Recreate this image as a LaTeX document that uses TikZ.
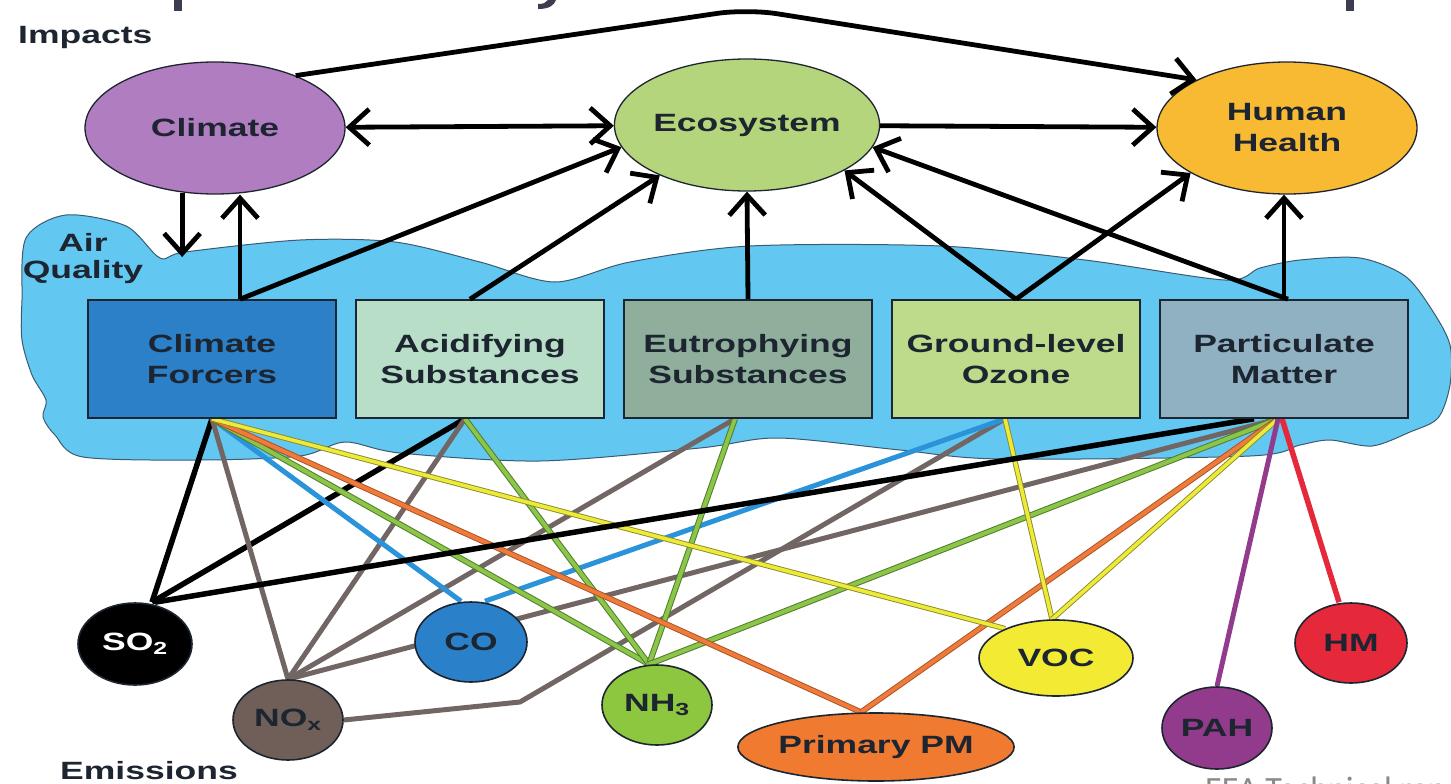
\documentclass[tikz,border=0pt]{standalone}
\usepackage{fontspec}
\usepackage{tikz}
\usetikzlibrary{shapes.geometric}
\usetikzlibrary{arrows.meta}
\newfontfamily\dfont[FakeStretch=1.42]{Liberation Sans}
\newfontfamily\slidefont{Carlito}
\definecolor{ink}{HTML}{1D2530}
\definecolor{cloudcol}{HTML}{62C8F2}
\definecolor{cloudline}{HTML}{3B5B70}
\definecolor{climcol}{HTML}{B07DC1}
\definecolor{ecocol}{HTML}{B4D57B}
\definecolor{hhcol}{HTML}{F8B933}
\definecolor{cfcol}{HTML}{2C80C8}
\definecolor{ascol}{HTML}{B8DEC8}
\definecolor{escol}{HTML}{8FAE9C}
\definecolor{gocol}{HTML}{BEDA8B}
\definecolor{pmcol}{HTML}{90B1C2}
\definecolor{noxcol}{HTML}{6F5F58}
\definecolor{cocol}{HTML}{2B80CA}
\definecolor{nhcol}{HTML}{8DC63F}
\definecolor{ppmcol}{HTML}{F07B30}
\definecolor{voccol}{HTML}{F2EA33}
\definecolor{pahcol}{HTML}{923B8C}
\definecolor{hmcol}{HTML}{E5283A}
\definecolor{lgray}{HTML}{716664}
\definecolor{lblue}{HTML}{2B93D9}
\definecolor{lgreen}{HTML}{8DC44A}
\definecolor{lgreenedge}{HTML}{4F7F2A}
\definecolor{lyellow}{HTML}{EDEA3A}
\definecolor{lyellowedge}{HTML}{8A8A2A}
\definecolor{lorange}{HTML}{EE7A3C}
\definecolor{lorangeedge}{HTML}{A85020}
\definecolor{titlecol}{HTML}{3D3D52}
\definecolor{eeagray}{HTML}{8A8A8A}
\pgfdeclarelayer{back}
\pgfdeclarelayer{mid}
\pgfsetlayers{back,mid,main}
\tikzset{%
    impact/.style={ellipse,draw=ink,line width=1.3pt,inner sep=0pt,minimum width=260pt,
        minimum height=132pt,align=center,text=ink,font=\dfont\bfseries\fontsize{25}{31}\selectfont},
    sbox/.style={rectangle,draw=ink,line width=1.6pt,inner sep=0pt,minimum width=248pt,
        minimum height=118pt,align=center,text=ink,font=\dfont\bfseries\fontsize{25}{31}\selectfont},
    emis/.style={ellipse,draw=ink,line width=1.6pt,inner sep=0pt,minimum width=112pt,
        minimum height=80pt,text=ink,font=\dfont\bfseries\fontsize{25}{31}\selectfont},
    lbl/.style={inner sep=0pt,align=center,text=ink,font=\dfont\bfseries\fontsize{25}{27}\selectfont}
}

\begin{document}
\begin{tikzpicture}[
                x=1pt,y=-1pt,
                arr/.style={line width=4.8pt,-{Straight Barb[length=20pt,width=36pt]}},
                arrb/.style={line width=4.8pt,{Straight Barb[length=20pt,width=36pt]}-{Straight Barb[length=20pt,width=36pt]}},
                blk/.style={line width=5.5pt,black},
                gry/.style={line width=5pt,lgray},
                blu/.style={line width=5pt,lblue},
                grn/.style={draw=lgreenedge,line width=1pt,double=lgreen,double distance=4pt},
                ylw/.style={draw=lyellowedge,line width=0.9pt,double=lyellow,double distance=3.6pt},
                org/.style={draw=lorangeedge,line width=0.9pt,double=lorange,double distance=4pt}
            ]
            \useasboundingbox (0,0) rectangle (1451,784);

            \begin{pgfonlayer}{back}
            \fill[white] (0,0) rectangle (1451,784);
            \filldraw[fill=cloudcol,draw=cloudline,line width=1pt] plot[smooth cycle,tension=0.5] coordinates {
                (22,300) (26,238) (66,215) (126,226) (160,258) (185,252) (300,240) (395,242)
                (480,262) (555,282) (630,262) (750,246) (940,246) (1085,260) (1225,280)
                (1260,268) (1300,260) (1360,258) (1405,276) (1432,310) (1450,345) (1450,385)
                (1438,418) (1410,432) (1372,446) (1330,440) (1300,445) (1250,456) (1000,459)
                (900,450) (778,438) (700,448) (540,461) (400,453) (345,442) (300,456)
                (200,460) (83,457) (55,435) (43,417) (46,400) (32,375) (22,340)};
            \end{pgfonlayer}

            \fill[titlecol] (174,0) rectangle (182,11);
            \fill[titlecol] (1346,0) rectangle (1354,11);
            \fill[titlecol] (538,9) .. controls (550,9) and (554,5) .. (556,0) -- (548,0) .. controls (546,3) and (543,4) .. (538,4) -- cycle;

            \node[lbl,anchor=base west] (imp) at (18,44) {Impacts};
            \node[lbl,anchor=base west] (emi) at (60,779) {Emissions};
            \node[lbl] (aq) at (83,259) {Air\\Quality};

            \node[impact,fill=climcol] (clim) at (215,128) {Climate};
            \node[impact,fill=ecocol] (eco) at (747,125) {Ecosystem};
            \node[impact,fill=hhcol] (hh) at (1287,128) {Human\\Health};

            \node[sbox,fill=cfcol] (cf) at (212,359) {Climate\\Forcers};
            \node[sbox,fill=ascol] (as) at (480,359) {Acidifying\\Substances};
            \node[sbox,fill=escol] (es) at (748,359) {Eutrophying\\Substances};
            \node[sbox,fill=gocol] (go) at (1016,359) {Ground-level\\Ozone};
            \node[sbox,fill=pmcol] (pm) at (1284,359) {Particulate\\Matter};

            \node[emis,fill=black,text=white,minimum width=114pt,minimum height=82pt] (so2) at (135,644) {SO\textsubscript{2}};
            \node[emis,fill=noxcol,minimum width=110pt] (nox) at (288,720) {NO\textsubscript{x}};
            \node[emis,fill=cocol] (co) at (471,642) {CO};
            \node[emis,fill=nhcol,minimum width=110pt] (nh3) at (657,705) {NH\textsubscript{3}};
            \node[emis,fill=ppmcol,minimum width=218pt,minimum height=68pt] (ppm) at (876,747) {Primary PM};
            \node[emis,fill=voccol,minimum width=154pt,minimum height=76pt] (voc) at (1056,658) {VOC};
            \node[emis,fill=pahcol,minimum width=110pt,minimum height=82pt] (pah) at (1217,728) {PAH};
            \node[emis,fill=hmcol] (hm) at (1351,643) {HM};

            \node[anchor=north west,inner sep=0pt,text=eeagray,font=\slidefont\fontsize{34}{40}\selectfont] (eea) at (1205,777) {EEA Technical report};

            \coordinate (cfb) at (cf.south);
            \coordinate (asb) at ([xshift=-15pt]as.south);
            \coordinate (esb) at ([xshift=-13pt]es.south);
            \coordinate (gob) at ([xshift=-11pt]go.south);
            \coordinate (pmb) at ([xshift=-6pt]pm.south);
            \coordinate (bend) at (520,702);

            \begin{pgfonlayer}{mid}
            \draw[blk] (cfb) -- ([xshift=17pt]so2.north);
            \draw[blk] (asb) -- ([xshift=17pt]so2.north);
            \draw[gry] (cfb) -- (nox.north);
            \draw[gry] (asb) -- (nox.north);
            \draw[gry] (esb) -- (nox.north);
            \draw[gry] (pmb) -- (nox.north);
            \draw[gry] (nox.east) -- (bend) -- (gob);
            \draw[blu] (cfb) -- ([xshift=-10pt]co.north);
            \draw[blu] (gob) -- ([xshift=14pt]co.north);
            \draw[grn] (cfb) -- ([xshift=-8pt]nh3.north);
            \draw[grn] (asb) -- ([xshift=-8pt]nh3.north);
            \draw[grn] (esb) -- ([xshift=-8pt]nh3.north);
            \draw[grn] (pmb) -- ([xshift=-8pt]nh3.north);
            \draw[org] (cfb) -- ([xshift=-15pt]ppm.north);
            \draw[org] (pmb) -- ([xshift=-15pt]ppm.north);
            \draw[ylw] (cfb) -- (voc.150);
            \draw[ylw] (gob) -- ([xshift=-4pt]voc.north);
            \draw[ylw] (pmb) -- ([xshift=-4pt]voc.north);
            \draw[line width=5pt,pahcol] (pmb) -- (pah.north);
            \draw[line width=5.5pt,hmcol] ([xshift=4pt]pmb) -- ([xshift=-12pt]hm.north);
            \draw[blk] ([xshift=20pt]so2.north) -- ([xshift=-24pt]pmb);
            \end{pgfonlayer}

            \coordinate (peak) at (747,9);
            \coordinate (aqdip) at (182,257);
            \coordinate (cftop) at ([xshift=28pt]cf.north);
            \draw[arrb] (clim) -- (eco);
            \draw[arr] (eco) -- (hh);
            \draw[arr,rounded corners=30pt] (clim.33) -- (peak) -- (hh.152);
            \draw[arr] (clim.243) -- (clim.243 |- aqdip);
            \draw[arr] (cftop) -- (cftop |- clim.south);
            \draw[arr] (cftop) -- (eco.190);
            \draw[arr] ([xshift=-10pt]as.north) -- (eco.210);
            \draw[arr] (es.north) -- (eco.south);
            \draw[arr] (go.north) -- (eco.335);
            \draw[arr] (go.north) -- (hh.205);
            \draw[arr] ([xshift=4pt]pm.north) -- (eco.350);
            \draw[arr] (pm.north) -- (pm.north |- hh.south);
        \end{tikzpicture}
\end{document}
